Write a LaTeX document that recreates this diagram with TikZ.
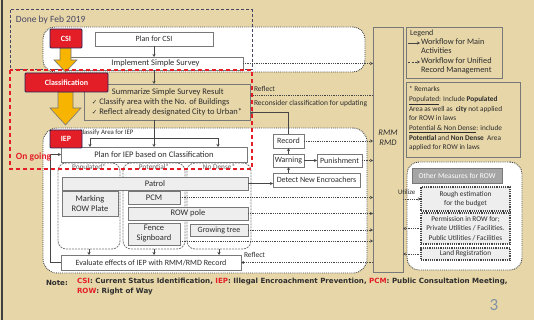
\documentclass[tikz,border=0pt]{standalone}
\usepackage{fontspec}
\setmainfont{Carlito}
\newfontfamily\symfont{DejaVu Sans}
\newfontfamily\notefont{DejaVu Sans}
\usetikzlibrary{arrows.meta,calc}
\definecolor{parch}{RGB}{231,214,168}
\definecolor{slidered}{RGB}{228,30,38}
\definecolor{arrowgold}{RGB}{247,180,0}
\definecolor{boxline}{RGB}{120,120,120}
\definecolor{ink}{RGB}{45,45,45}
\definecolor{flowline}{RGB}{70,70,70}
\definecolor{grayfill}{RGB}{238,238,238}
\definecolor{hdrgray}{RGB}{165,165,165}
\definecolor{doneink}{RGB}{70,70,100}
\definecolor{pagenum}{RGB}{130,145,165}
\newcommand{\chk}{{\symfont\fontsize{6.5}{10}\selectfont ✓}}
\begin{document}
\begin{tikzpicture}[x=1pt,y=-1pt,
  every node/.style={inner sep=0pt, outer sep=0pt, text=ink},
  f85/.style={font=\fontsize{8.5}{10}\selectfont},
  f8/.style={font=\fontsize{8}{9.6}\selectfont},
  f75/.style={font=\fontsize{7.5}{9}\selectfont},
  f7/.style={font=\fontsize{7.3}{9.7}\selectfont},
  f65/.style={font=\fontsize{6.8}{8}\selectfont},
  box/.style={draw=boxline, line width=0.8pt, fill=white, f8, anchor=north west, align=center},
  graybox/.style={box, fill=grayfill},
  redbox/.style={draw=ink!80!blue, line width=0.8pt, fill=slidered, text=white,
    font=\fontsize{8}{9}\selectfont\bfseries, anchor=north west, rounded corners=1pt},
  region/.style={draw=flowline, densely dotted, line width=0.9pt, fill=white,
    rounded corners=12pt, anchor=north west},
  column/.style={draw=boxline, dash pattern=on 2pt off 1pt, line width=0.8pt,
    rounded corners=8pt, anchor=north west},
  dotbox/.style={draw=flowline, densely dotted, line width=1.2pt, fill=grayfill, f7,
    anchor=north west, align=center},
  frame/.style={draw=boxline, line width=0.8pt, anchor=north west},
  flow/.style={draw=flowline, line width=0.8pt, -{Stealth[length=3pt,width=3pt]}},
  rec/.style={draw=flowline, line width=0.8pt, densely dotted, -{Stealth[length=3pt,width=3pt]}},
  gold/.style={fill=arrowgold, draw=boxline, line width=0.6pt},
]
% slide background
\fill[parch] (0,0) rectangle (534,320);
\useasboundingbox (0,0) rectangle (534,320);
\draw[gray!50!black, line width=1.5pt] (2,0) -- (2,320);

% white working areas
\node[region, minimum width=322pt, minimum height=45pt] (csizone) at (43,27) {};
\node[region, minimum width=324pt, minimum height=145pt, rounded corners=14pt] (iepzone) at (43,128) {};
\node[region, minimum width=115pt, minimum height=108pt] (otherzone) at (407,162) {};

% period frame for completed work
\draw[doneink, line width=1pt, dash pattern=on 3pt off 2pt] (10,10) rectangle (252,70);
\node[anchor=west, font=\fontsize{9.5}{10}\selectfont, text=doneink] (donelbl) at (16,20) {Done by Feb 2019};

% CSI stage
\node[box, minimum width=118pt, minimum height=14pt] (plancsi) at (95,32) {Plan for CSI};
\node[box, f85, minimum width=175pt, minimum height=13pt] (implement) at (68,57) {Implement Simple Survey};
\draw[flow] (plancsi.south) -- (plancsi.south |- implement.north);

% Classification stage
\node[box, f85, fill=none, minimum width=166pt, minimum height=36pt, align=left] (summ) at (84,84)
  {\hspace*{20pt}Summarize Simple Survey Result\\
   \chk\ Classify area with the No. of Buildings\\
   \chk\ Reflect already designated City to Urban*};
\draw[flow] (implement.south -| plancsi.south) -- (summ.north -| plancsi.south);
\coordinate (summin1) at ($(summ.north east)!0.31!(summ.south east)$);
\coordinate (summin2) at ($(summ.north east)!0.8!(summ.south east)$);

% IEP stage
\node[f65, anchor=west] (classlbl) at (79,133) {Classify Area for IEP};
\node[box, f85, minimum width=186pt, minimum height=15pt] (planiep) at (61,147) {Plan for IEP based on Classification};
\draw[flow] (summ.south -| plancsi.south) -- (planiep.north -| plancsi.south);
\coordinate (brl) at (90,138);
\coordinate (brr) at (218,138);
\draw[flowline, line width=0.8pt] (brl) -- (brr);
\draw[flow] (brl) -- (brl |- planiep.north);
\draw[flow] (brr) -- (brr |- planiep.north);

\node[column, minimum width=62pt, minimum height=86pt] (colpop) at (58,163) {};
\node[column, minimum width=62pt, minimum height=86pt] (colpot) at (123,163) {};
\node[column, minimum width=64pt, minimum height=86pt] (colnd) at (187,163) {};
\node[f7, text=ink!75] (lpop) at ($(colpop.north)+(0,4)$) {Populated*};
\node[f7, text=ink!75] (lpot) at ($(colpot.north)+(0,4)$) {Potential*};
\node[f7, text=ink!75] (lnd) at ($(colnd.north)+(0,4)$) {No Dense*};

\node[graybox, f85, minimum width=186pt, minimum height=13pt] (patrol) at (62,177) {Patrol};
\node[graybox, f85, minimum width=56pt, minimum height=25pt] (marking) at (62,191) {Marking\\ROW Plate};
\node[graybox, f85, minimum width=52pt, minimum height=13pt] (pcm) at (128,191) {PCM};
\node[graybox, f85, minimum width=120pt, minimum height=13pt] (rowpole) at (128,207) {ROW pole};
\node[graybox, f85, minimum width=52pt, minimum height=22pt] (fence) at (128,223) {Fence\\Signboard};
\node[graybox, f8, minimum width=58pt, minimum height=12pt] (tree) at (190,224) {Growing tree};
\coordinate (fenceout) at ($(fence.east)+(0,7)$);

\node[box, minimum width=180pt, minimum height=15pt] (evaluate) at (61,255) {Evaluate effects of IEP with RMM/RMD Record};
\draw[flow] (colpop.south) -- (colpop.south |- evaluate.north);
\draw[flow] (colpot.south) -- (colpot.south |- evaluate.north);
\draw[flow] (colnd.south) -- (colnd.south |- evaluate.north);
\draw[flow] (evaluate.west) -- ++(-11,0) |- (planiep.west);

% enforcement chain
\node[box, minimum width=31pt, minimum height=14pt] (record) at (273,134) {Record};
\node[box, minimum width=31pt, minimum height=13pt] (warning) at (273,154) {Warning};
\node[box, minimum width=45pt, minimum height=13pt] (punish) at (317,154) {Punishment};
\node[box, minimum width=87pt, minimum height=14pt] (detect) at (273,173) {Detect New Encroachers};
\draw[flow] (patrol.east) -- (detect.west |- patrol.east);
\draw[flow] (detect.north -| warning.south) -- (warning.south);
\draw[flow] (warning.north) -- (record.south);
\draw[flow] (warning.east) -- (punish.west);
\draw[flow] (record.north) |- (summin2);
\node[f75, anchor=west] (reconlbl) at (254,104) {Reconsider classification for updating};

% record management column
\node[frame, minimum width=30pt, minimum height=245pt] (rmm) at (373,27) {};
\node[font=\fontsize{8.5}{10.5}\selectfont\itshape, align=center] (rmmtext) at (388,138) {RMM\\RMD};

\draw[rec] (implement.east) -- (rmm.west |- implement.east);
\draw[rec] (rmm.west |- summin1) -- (summin1);
\node[f75, anchor=west] (reflect1) at (254,89) {Reflect};
\draw[rec] (record.east) -- (rmm.west |- record.east);
\draw[rec] (punish.east) -- (rmm.west |- punish.east);
\draw[rec] (pcm.east) -- (rmm.west |- pcm.east);
\draw[rec] (rowpole.east) -- (rmm.west |- rowpole.east);
\draw[rec] (tree.east) -- (rmm.west |- tree.east);
\draw[rec] (fenceout) -- (rmm.west |- fenceout);
\draw[rec] (rmm.west |- evaluate.east) -- (evaluate.east);
\node[f75, anchor=west] (reflect2) at (244,255) {Reflect};

% legend
\node[frame, minimum width=96pt, minimum height=51pt] (legend) at (406,27) {};
\node[f8, anchor=west] (legendttl) at (410,33) {Legend};
\coordinate (lga) at (408,43);
\coordinate (lgb) at (420,43);
\coordinate (lgc) at (408,62);
\coordinate (lgd) at (420,62);
\draw[flow] (lga) -- (lgb);
\draw[flow, dash pattern=on 2pt off 1.5pt] (lgc) -- (lgd);
\node[font=\fontsize{8.3}{9.5}\selectfont, anchor=north west, align=left] (lgt1) at (421,38.5) {Workflow for Main\\Activities};
\node[font=\fontsize{8.3}{9.5}\selectfont, anchor=north west, align=left] (lgt2) at (421,57.5) {Workflow for Unified\\Record Management};

% remarks
\node[frame, minimum width=114pt, minimum height=75pt] (remarks) at (406,82) {};
\node[f7, anchor=north west, align=left] (remarktext) at (409,86.5)
  {* Remarks\\
   \underline{Populated}: Include \textbf{Populated}\\
   Area as well as \ \textbf{city} not applied\\
   for ROW in laws\\
   \underline{Potential \& Non Dense}: include\\
   \textbf{Potential} and \textbf{Non Dense} \ Area\\
   applied for ROW in laws};

% other measures
\node[anchor=north west, draw=boxline, fill=hdrgray, text=white, f75, minimum width=90pt, minimum height=15pt] (otherhdr) at (412,168) {Other Measures for ROW};
\node[dotbox, minimum width=89pt, minimum height=24pt] (rough) at (421,187) {Rough estimation\\for the budget};
\node[dotbox, minimum width=89pt, minimum height=31pt] (permission) at (421,213) {Permission in ROW for;\\Private Utilities / Facilities.\\Public Utilities / Facilities};
\node[dotbox, minimum width=89pt, minimum height=12pt] (landreg) at (421,248) {Land Registration};
\draw[rec] (rmm.east |- rough.west) -- (rough.west);
\node[f65, anchor=west] (utilize) at (398,192) {Utilize};
\draw[rec] (permission.west) -- (rmm.east |- permission.west);
\draw[rec] (landreg.west) -- (rmm.east |- landreg.west);

% stage arrows and stage labels
\filldraw[gold] (60,48) -- (71,48) -- (71,60) -- (77,60) -- (65.5,72) -- (54,60) -- (60,60) -- cycle;
\filldraw[gold] (58,92) -- (73,92) -- (73,108) -- (81,108) -- (65.5,125) -- (50,108) -- (58,108) -- cycle;
\node[redbox, minimum width=32pt, minimum height=19pt] (csi) at (50,29) {CSI};
\node[redbox, minimum width=83pt, minimum height=19pt] (classif) at (25,73) {Classification};
\node[redbox, minimum width=32pt, minimum height=18pt] (iep) at (50,130) {IEP};

% period frame for ongoing work
\draw[slidered, line width=1.2pt, dash pattern=on 4pt off 3pt] (10,70) rectangle (252,169);
\node[anchor=west, font=\fontsize{9.5}{10}\selectfont\bfseries, text=slidered] (onglbl) at (16,157) {On going};

% abbreviations
\node[anchor=west, font=\notefont\fontsize{7.1}{9}\selectfont\bfseries] (notelbl) at (46,283) {Note:};
\node[anchor=north west, align=left, font=\notefont\fontsize{7.1}{9.5}\selectfont\bfseries] (notebody) at (77,278.5)
  {\textcolor{slidered}{CSI}: Current Status Identification, \textcolor{slidered}{IEP}: Illegal Encroachment Prevention, \textcolor{slidered}{PCM}: Public Consultation Meeting,\\
   \textcolor{slidered}{ROW}: Right of Way};
\node[font=\fontsize{17}{17}\selectfont, text=pagenum] (pagenr) at (494,305) {3};
\end{tikzpicture}
\end{document}
